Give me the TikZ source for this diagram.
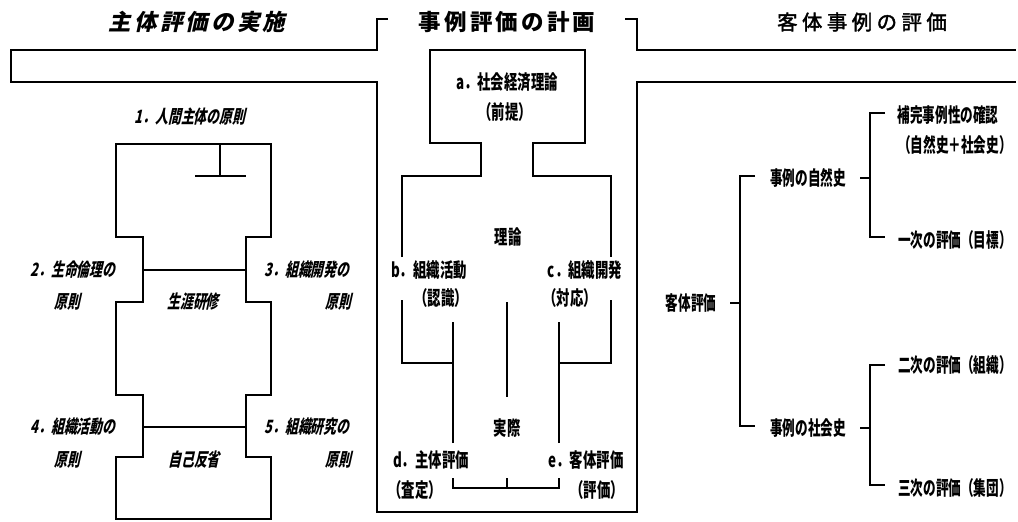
\documentclass[tikz,border=0pt]{standalone}
\usepackage{fontspec}
\newfontfamily\jpL{Noto Sans CJK JP}[FakeStretch=0.70,FakeSlant=0.22]
\newfontfamily\jpC{Noto Sans CJK JP}[FakeStretch=0.68]
\newfontfamily\jpR{Noto Sans CJK JP}[FakeStretch=0.64]
\newfontfamily\jpTL{Noto Sans CJK JP}[FakeSlant=0.22,LetterSpace=14]
\newfontfamily\jpTC{Noto Sans CJK JP}[LetterSpace=14]
\newfontfamily\jpTR{Noto Sans CJK JP}[LetterSpace=22,FakeBold=2]
\begin{document}
\begin{tikzpicture}[x=0.025cm,y=-0.025cm,
  ln/.style={line width=1pt,line join=miter},
  tL/.style={font=\jpTL\bfseries\fontsize{16}{18}\selectfont,inner sep=0pt},
  tC/.style={font=\jpTC\bfseries\fontsize{16}{18}\selectfont,inner sep=0pt},
  tR/.style={font=\jpTR\fontsize{14.5}{18}\selectfont,inner sep=0pt},
  lbL/.style={font=\jpL\bfseries\fontsize{13}{15}\selectfont,inner sep=0pt},
  lbC/.style={font=\jpC\bfseries\fontsize{14}{16}\selectfont,inner sep=0pt},
  lbR/.style={font=\jpR\bfseries\fontsize{14}{16}\selectfont,inner sep=0pt},
]
\useasboundingbox (0,0) rectangle (1018,521);

% titles
\node[tL] (t1) at (197,22) {主体評価の実施};
\node[tC] (t2) at (507,22) {事例評価の計画};
\node[tR] (t3) at (862,22) {客体事例の評価};

% outer frame
\draw[ln] (388,19) -- (377,19) -- (377,50) -- (11,50) -- (11,82) -- (377,82)
  -- (377,512) -- (637,512) -- (637,82) -- (1016,82);
\draw[ln] (625,19) -- (637,19) -- (637,50) -- (1016,50);

% ---- left panel ----
\draw[ln] (143,302) -- (143,237) -- (116,237) -- (116,144) -- (271,144)
  -- (271,237) -- (246,237) -- (246,302) -- (271,302) -- (271,395)
  -- (246,395) -- (246,457) -- (271,457) -- (271,519) -- (116,519)
  -- (116,457) -- (143,457) -- (143,395) -- (116,395) -- (116,302) -- cycle;
\draw[ln] (220,144) -- (220,176);
\draw[ln] (195,176) -- (246,176);
\draw[ln] (143,270) -- (246,270);
\draw[ln] (143,427) -- (246,427);

\node[lbL] (p1) at (190,117) {1．人間主体の原則};
\node[lbL] (p2) at (73,270) {2．生命倫理の};
\node[lbL] (p2b) at (67,302) {原則};
\node[lbL] (p3) at (307,270) {3．組織開発の};
\node[lbL] (p3b) at (338,302) {原則};
\node[lbL] (s1) at (193,302) {生涯研修};
\node[lbL] (p4) at (73,427) {4．組織活動の};
\node[lbL] (p4b) at (67,460) {原則};
\node[lbL] (p5) at (307,427) {5．組織研究の};
\node[lbL] (p5b) at (338,460) {原則};
\node[lbL] (s2) at (194,460) {自己反省};

% ---- center panel ----
\draw[ln] (402,257) -- (402,176) -- (481,176) -- (481,143)
  -- (430,143) -- (430,50) -- (585,50) -- (585,143) -- (533,143)
  -- (533,176) -- (611,176) -- (611,257);
\draw[ln] (402,300) -- (402,363) -- (453,363);
\draw[ln] (611,300) -- (611,363) -- (559,363);
\draw[ln] (453,443) -- (453,322);
\draw[ln] (559,443) -- (559,322);
\draw[ln] (453,478) -- (453,488) -- (559,488) -- (559,478);
\draw[ln] (507,302) -- (507,397);
\draw[ln] (507,478) -- (507,488);

\node[lbC] (ca) at (507,82) {a．社会経済理論};
\node[lbC] (ca2) at (505,112) {（前提）};
\node[lbC] (th) at (508,237) {理論};
\node[lbC] (cb) at (429,270) {b．組織活動};
\node[lbC] (cb2) at (441,298) {（認識）};
\node[lbC] (cc) at (585,270) {c．組織開発};
\node[lbC] (cc2) at (570,298) {（対応）};
\node[lbC] (pr) at (507,428) {実際};
\node[lbC] (cd) at (431,460) {d．主体評価};
\node[lbC] (cd2) at (415,490) {（査定）};
\node[lbC] (ce) at (586,460) {e．客体評価};
\node[lbC] (ce2) at (597,490) {（評価）};

% ---- right panel (tree) ----
\node[lbR] (k0) at (691,303) {客体評価};
\node[lbR] (k1) at (808,178) {事例の自然史};
\node[lbR] (k2) at (808,428) {事例の社会史};
\node[lbR] (k11) at (948,115) {補完事例性の確認};
\node[lbR] (k11b) at (955,145) {（自然史＋社会史）};
\node[lbR] (k12) at (955,240) {一次の評価（目標）};
\node[lbR] (k21) at (955,365) {二次の評価（組織）};
\node[lbR] (k22) at (955,488) {三次の評価（集団）};

\coordinate (j0) at (740,303);
\coordinate (j0a) at (730,303);
\coordinate (j0t) at (740,176);
\coordinate (j0b) at (740,426);
\coordinate (e1) at (755,176);
\coordinate (e2) at (755,426);
\draw[ln] (j0a) -- (j0);
\draw[ln] (e1) -- (j0t) -- (j0b) -- (e2);

\coordinate (j1a) at (860,178);
\coordinate (j1) at (870,178);
\coordinate (j1t) at (870,113);
\coordinate (j1b) at (870,237);
\coordinate (f11) at (885,113);
\coordinate (f12) at (885,237);
\draw[ln] (j1a) -- (j1);
\draw[ln] (f11) -- (j1t) -- (j1b) -- (f12);

\coordinate (j2a) at (860,428);
\coordinate (j2) at (870,428);
\coordinate (j2t) at (870,365);
\coordinate (j2b) at (870,485);
\coordinate (f21) at (885,365);
\coordinate (f22) at (885,485);
\draw[ln] (j2a) -- (j2);
\draw[ln] (f21) -- (j2t) -- (j2b) -- (f22);
\end{tikzpicture}
\end{document}
